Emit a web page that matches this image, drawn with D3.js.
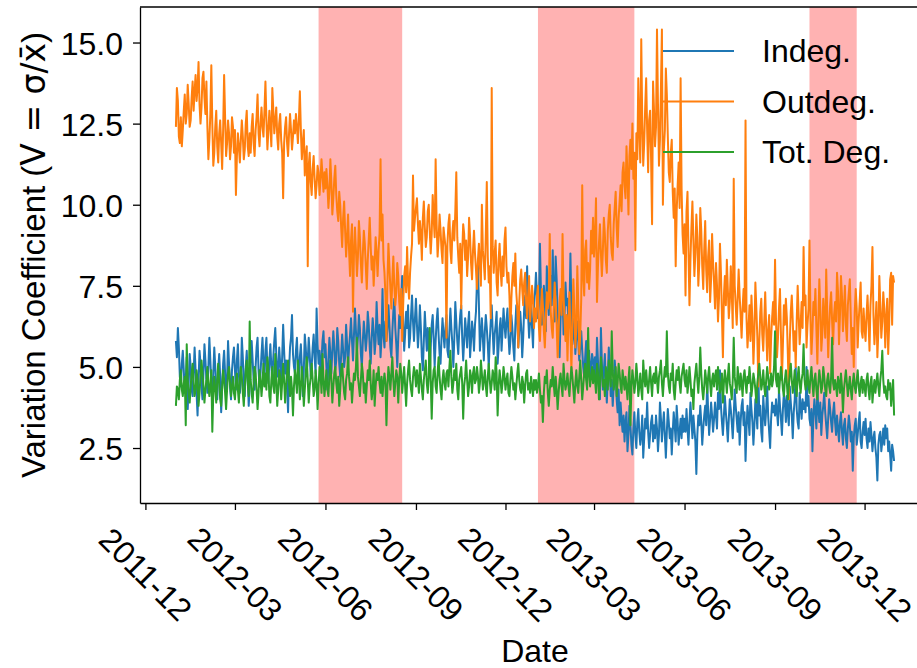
<!DOCTYPE html>
<html lang="en">
<head>
<meta charset="UTF-8">
<title>Variation Coefficient</title>
<script src="https://d3js.org/d3.v7.min.js"></script>
<style>
  body { margin: 0; background: #fff; }
  svg { display: block; font-family: "Liberation Sans", Arial, Helvetica, sans-serif; }
</style>
</head>
<body>
<div id="chart"></div>
<script>
// daily values from 2012-01-01 to 2013-12-31, one row per month
const startDate = "2012-01-01";

const indeg = [
  5.8,5.3,6.2,5.6,4.7,4.4,5.1,5.5,4.9,4.2,4.6,5.3,3.7,4.5,5.4,5.0,4.3,4.1,4.8,5.6,4.9,4.2,3.5,4.6,5.5,5.1,4.4,4.0,4.8,5.7,5.2,
  4.6,4.2,5.0,5.9,5.2,4.5,4.1,4.8,5.6,5.0,4.3,4.0,4.9,5.4,4.7,3.6,4.4,5.1,5.5,4.8,4.2,4.6,5.8,5.1,4.4,4.0,4.9,5.3,5.6,
  4.9,4.3,5.2,5.7,4.8,4.2,4.6,5.9,5.3,4.5,4.1,5.0,5.5,4.7,3.8,4.4,5.1,5.8,5.2,4.6,4.3,5.0,5.6,5.9,4.9,4.4,4.8,5.4,5.9,5.1,4.6,
  5.5,5.9,4.9,4.5,5.2,5.7,5.0,4.6,5.3,5.8,6.2,5.4,4.7,4.9,5.6,5.1,4.6,5.3,6.3,5.5,4.8,5.2,4.4,3.6,4.9,5.6,5.9,6.6,5.4,5.0,
  4.8,5.5,5.9,5.1,4.6,5.3,5.7,5.0,4.1,4.9,6.0,5.6,4.9,5.2,5.9,5.4,4.7,5.0,5.6,6.0,5.3,4.8,6.8,5.7,5.1,5.5,4.7,5.2,5.8,6.1,5.3,
  5.7,5.0,4.3,5.2,5.9,5.4,4.8,5.5,6.1,5.6,4.9,5.2,6.2,5.8,5.1,4.7,5.4,6.0,5.5,5.0,5.3,6.3,5.7,5.0,5.6,6.0,6.5,5.8,5.2,6.0,
  6.8,6.1,5.5,5.9,6.6,6.2,5.4,5.0,5.8,6.4,6.0,5.5,5.9,6.7,6.3,5.6,5.1,5.9,6.5,6.1,5.4,5.8,7.0,6.2,5.7,6.3,5.3,5.9,7.4,6.0,5.6,
  6.4,5.8,6.2,6.9,6.3,5.6,5.3,6.1,6.7,7.1,6.2,5.7,5.0,5.9,6.6,6.2,7.0,7.8,6.5,5.5,6.0,6.7,6.2,6.9,5.6,5.9,6.6,7.2,6.4,5.8,6.5,
  7.1,6.3,5.6,6.1,6.9,6.2,5.3,4.9,5.8,6.7,6.1,5.5,6.2,5.7,4.7,5.6,6.3,6.6,5.9,5.0,5.8,6.4,6.8,6.0,5.4,5.1,5.9,6.5,6.0,5.6,
  6.2,6.6,5.5,5.3,6.1,6.8,6.2,5.7,5.0,5.9,7.0,6.4,5.8,5.4,6.1,6.6,6.9,5.9,5.2,5.8,6.5,6.1,5.6,6.3,6.7,5.3,5.8,6.4,6.1,5.5,6.3,
  6.7,7.6,8.2,6.9,5.5,6.0,6.5,5.9,5.2,6.1,6.6,6.2,5.7,5.0,5.8,6.4,6.9,6.1,5.4,6.0,6.3,6.7,5.1,5.6,6.2,6.5,5.5,6.1,6.8,6.3,
  5.9,6.4,6.8,6.0,5.4,5.8,6.6,6.2,5.6,5.2,6.3,6.9,6.4,5.6,6.1,6.7,6.2,5.3,5.9,6.8,7.2,6.5,8.1,6.6,5.9,6.4,7.0,6.2,5.6,6.9,7.3,
  7.9,7.2,6.5,6.9,8.8,7.4,6.3,6.8,7.5,7.0,6.1,8.1,7.6,6.6,7.2,7.8,6.9,8.6,7.3,6.4,8.4,7.7,6.7,6.2,5.3,6.5,7.1,7.4,6.0,6.6,7.6,
  6.9,7.1,6.2,6.6,8.5,6.8,5.7,6.0,6.5,5.4,5.9,6.4,5.8,5.2,5.6,6.1,5.5,5.0,4.7,5.3,5.8,4.9,5.2,5.5,4.6,5.0,5.4,5.2,
  4.8,5.3,4.6,5.9,5.2,4.4,4.0,6.2,5.1,4.3,4.9,5.4,4.5,3.9,4.7,5.6,5.0,4.1,4.6,3.8,4.4,5.2,4.8,4.0,3.6,4.3,3.2,3.9,3.4,3.0,3.5,
  2.7,3.3,3.6,2.4,2.9,3.8,3.2,2.6,2.3,3.1,3.6,2.9,2.5,3.3,3.7,3.0,2.6,2.9,3.5,2.2,2.8,3.4,3.1,3.9,3.0,2.5,2.9,3.3,3.5,2.7,
  3.2,2.8,3.5,3.1,2.4,2.9,3.9,3.4,2.7,3.2,3.6,2.9,2.2,3.0,3.7,3.3,2.8,3.1,2.3,3.0,3.6,3.2,2.7,3.8,3.3,2.6,3.0,3.4,2.8,3.5,3.0,
  3.4,3.0,3.7,3.1,2.6,3.3,3.9,3.4,2.8,3.5,3.1,2.7,1.7,2.9,3.5,3.2,3.8,3.3,2.6,3.1,3.5,3.8,3.2,4.6,3.6,2.9,3.4,3.9,3.5,3.0,
  3.4,3.9,3.5,3.1,4.2,3.7,4.9,3.8,3.3,2.9,3.5,4.1,3.6,3.2,2.7,3.4,4.0,3.7,3.3,2.8,3.5,4.3,3.8,3.4,3.0,3.6,2.6,3.3,3.8,4.0,3.2,
  3.6,2.1,3.1,3.8,3.4,2.9,4.2,3.7,3.3,2.6,3.2,4.0,3.6,3.1,4.8,3.5,3.8,3.0,2.7,4.1,3.6,3.2,3.7,4.4,3.5,3.0,2.5,3.4,3.9,3.6,3.8,
  3.5,4.0,3.6,3.2,4.3,3.8,3.4,2.9,3.7,4.2,3.9,3.3,4.1,3.6,3.2,4.4,3.9,3.5,2.8,3.6,4.0,5.0,3.7,3.3,3.1,4.2,3.8,3.4,4.0,3.7,
  3.9,3.6,5.0,3.8,4.1,3.4,3.2,3.7,2.4,3.5,4.0,3.6,3.1,4.3,3.7,3.3,3.9,2.9,3.5,3.8,4.2,3.6,3.2,2.8,3.4,4.0,3.7,3.3,3.0,3.6,3.9,
  3.3,2.9,3.5,3.1,2.7,3.3,3.6,3.0,2.6,3.2,3.4,2.8,2.5,3.1,3.5,3.2,2.7,3.0,1.8,2.8,3.2,3.4,2.6,2.9,3.3,3.6,2.7,2.5,3.0,3.3,
  2.9,3.4,2.8,2.5,3.1,2.7,3.3,2.9,2.4,2.8,3.0,2.5,2.2,1.5,2.6,2.9,3.0,2.4,2.7,3.1,2.6,3.2,2.8,3.1,2.4,2.7,2.3,1.8,2.6,2.4,2.1
];

const outdeg = [
  12.4,13.6,13.2,12.1,11.9,12.7,11.8,12.3,12.9,13.4,12.5,12.8,13.7,13.1,12.4,12.6,13.3,13.8,12.9,13.5,14.0,13.2,13.6,14.4,13.1,12.5,13.0,13.9,14.1,13.3,12.8,
  13.8,12.4,11.4,12.0,12.8,14.3,12.5,11.2,11.6,12.4,12.9,11.8,11.3,12.2,12.6,11.9,11.1,12.3,14.0,12.7,11.5,11.9,12.6,12.2,11.4,11.8,12.7,12.4,11.6,
  12.3,10.3,11.5,12.2,11.8,11.3,12.0,12.6,12.1,11.4,11.7,12.5,12.9,11.8,11.5,12.2,11.6,12.4,12.8,11.9,11.5,12.3,12.7,13.4,12.2,11.8,12.5,13.0,12.4,12.1,12.9,
  13.8,12.6,11.7,12.3,12.9,12.4,11.8,13.6,12.9,12.2,12.6,13.0,12.1,11.7,12.5,12.8,12.0,11.6,10.2,11.9,12.4,12.7,11.9,11.5,12.2,12.8,12.3,11.7,12.1,12.6,
  12.2,12.8,12.4,11.9,12.6,13.5,12.3,11.4,11.9,12.3,10.9,11.5,11.8,8.1,11.2,11.6,10.7,10.3,11.1,11.5,10.8,10.2,10.6,11.2,11.0,10.3,10.8,11.4,10.9,10.4,11.0,
  10.5,11.1,10.6,9.9,10.4,11.4,10.7,9.7,10.2,10.8,11.2,10.3,9.8,9.5,10.4,10.0,9.3,8.7,9.6,10.1,9.2,8.4,9.0,9.7,8.6,7.8,8.9,9.4,6.7,8.5,
  9.3,8.6,7.8,8.4,9.5,9.0,8.2,7.6,8.5,9.2,8.8,8.1,7.4,8.3,8.9,9.6,8.7,8.0,8.4,7.5,8.2,9.0,8.5,7.8,8.6,9.1,11.4,8.9,9.7,8.3,7.9,
  7.2,5.8,7.6,8.8,8.1,7.4,6.8,7.7,8.4,7.5,6.9,7.3,8.2,7.8,7.0,6.6,7.4,5.8,6.9,7.8,8.1,7.3,8.7,7.6,7.1,7.9,8.4,8.8,10.9,9.2,9.6,
  9.9,10.2,9.4,8.8,9.5,9.1,8.3,9.6,10.1,9.3,8.7,9.0,9.8,10.0,9.2,8.5,9.1,10.3,9.6,9.0,11.4,9.4,8.4,8.9,9.7,9.2,8.6,8.2,9.3,9.0,
  8.7,5.9,8.8,9.4,9.7,8.6,8.2,9.1,9.5,8.9,9.8,11.0,9.0,8.4,7.9,8.8,6.8,8.5,9.4,9.1,8.3,8.9,7.8,8.4,9.6,9.0,8.2,7.7,8.6,9.2,8.5,
  8.0,7.4,8.3,8.8,8.1,7.5,10.0,8.6,8.2,7.7,9.1,10.7,8.4,7.6,8.1,6.5,13.6,8.7,7.9,8.5,8.9,7.6,7.2,8.3,8.8,8.0,7.5,8.4,7.8,8.9,
  9.3,8.1,7.6,7.9,7.2,6.1,7.1,7.8,8.2,7.5,8.5,7.3,6.8,5.6,7.0,7.7,8.0,7.4,6.9,7.6,7.9,7.0,6.5,7.2,7.8,6.4,6.9,7.5,7.1,6.2,6.8,
  6.4,7.2,7.5,6.2,5.8,6.6,7.4,6.9,6.1,5.6,6.5,7.3,6.8,7.1,9.1,6.7,6.2,5.9,6.8,7.6,7.0,6.3,5.3,6.1,7.0,7.4,6.6,9.1,7.2,6.5,5.8,
  6.6,5.2,6.4,7.3,6.1,4.9,6.3,7.7,6.8,5.6,6.2,8.1,6.9,5.4,6.0,7.1,10.6,7.8,7.2,8.6,8.9,7.6,8.2,7.4,8.0,9.2,8.5,9.6,
  8.4,9.0,10.2,7.0,8.1,8.8,9.4,8.5,7.8,8.6,9.6,9.1,8.3,7.9,9.2,9.7,10.0,9.0,8.5,8.3,9.4,9.9,10.4,9.3,8.7,9.6,10.1,10.6,9.8,11.0,11.3,
  10.6,10.2,11.8,10.9,9.7,11.5,12.0,11.1,12.5,10.8,11.6,8.6,12.2,11.4,13.9,12.4,11.3,15.1,12.6,11.2,11.9,13.0,13.9,12.3,11.0,12.6,12.9,11.4,9.4,13.8,
  12.9,11.8,12.4,15.4,13.1,11.2,12.0,13.6,15.4,10.0,11.7,12.3,14.2,13.4,12.1,11.0,10.7,11.6,12.0,10.4,9.6,10.5,8.1,9.8,10.6,11.3,9.9,13.9,10.5,9.1,8.5,
  9.4,7.2,9.8,10.4,8.6,6.9,8.3,9.3,10.1,8.9,7.8,8.5,9.7,9.0,7.5,8.2,9.9,9.2,8.1,7.4,8.6,9.5,8.0,7.3,8.4,8.9,7.0,7.7,9.1,8.2,
  7.6,6.8,8.2,7.5,6.4,7.1,8.8,7.9,6.6,5.3,7.2,7.8,6.9,8.3,7.4,6.5,7.0,8.1,7.3,6.2,10.8,7.5,6.9,6.3,7.1,8.0,7.2,6.6,5.9,6.8,7.4,
  6.7,12.6,6.5,5.6,6.2,6.9,5.8,7.2,6.4,5.1,6.0,7.6,6.8,5.9,4.4,5.8,6.7,7.1,6.0,5.5,6.4,7.3,6.2,5.2,6.1,6.6,4.8,5.9,6.5,7.0,6.3,
  8.3,6.4,5.3,5.9,6.8,7.4,6.0,4.6,5.7,6.9,6.3,7.1,6.5,5.4,4.0,5.8,6.7,7.2,6.4,5.5,6.1,5.0,6.4,7.5,6.6,5.7,6.3,7.0,6.2,8.7,
  6.9,7.2,5.6,6.3,6.8,8.9,6.5,5.4,6.1,7.0,6.6,7.4,6.2,5.1,6.4,7.7,6.8,5.5,6.0,7.1,6.5,5.9,8.0,6.7,5.3,6.2,6.9,7.3,6.4,5.7,6.6,
  7.0,6.4,7.9,7.3,5.7,6.6,7.8,7.2,6.1,6.8,7.5,6.3,5.8,6.9,7.3,7.7,6.5,5.4,6.2,5.0,6.7,7.4,6.8,5.6,6.4,7.0,7.6,6.1,5.9,6.8,
  6.2,5.8,6.6,7.2,6.4,5.5,6.9,7.5,8.7,6.6,5.7,6.3,7.0,5.3,6.1,7.8,6.9,5.9,6.4,7.3,6.8,5.6,6.5,7.1,5.4,6.3,7.7,7.9,6.3,7.8,7.6
];

const totdeg = [
  3.8,4.4,4.3,4.0,4.6,4.9,4.3,4.1,4.5,4.7,3.2,5.7,4.6,4.2,3.9,4.4,4.8,5.1,4.5,4.1,4.3,4.9,4.6,3.8,4.2,4.7,5.2,4.8,4.4,3.9,4.3,
  4.6,5.0,4.4,4.1,4.5,4.9,3.0,4.2,4.7,4.3,3.9,4.6,5.1,4.5,4.0,3.8,4.4,4.9,4.6,4.2,3.7,4.3,4.8,5.0,4.5,4.1,4.4,4.7,4.2,
  4.0,4.5,4.8,4.3,3.9,4.6,5.0,4.7,4.2,3.8,4.4,4.9,5.2,4.5,4.1,6.4,4.6,4.2,3.9,4.5,5.0,4.8,4.3,3.7,4.2,4.9,4.6,4.1,4.5,5.1,4.4,
  4.8,4.3,5.3,4.9,4.1,3.9,4.6,5.0,4.4,4.2,5.4,4.6,3.8,4.3,4.9,4.7,4.0,4.5,5.1,4.6,3.9,4.4,4.8,5.2,4.5,4.1,4.7,4.3,3.5,4.4,
  4.9,4.6,4.2,5.2,4.7,4.0,4.4,5.0,4.5,3.8,4.3,4.8,5.3,4.6,3.9,4.4,4.7,5.1,4.6,4.1,4.3,4.9,4.5,3.7,4.4,5.0,4.8,4.2,5.4,4.6,4.1,
  4.5,4.9,4.3,4.1,4.7,5.2,4.6,3.9,4.4,4.8,5.0,4.5,4.2,4.7,3.8,4.3,4.9,5.1,4.6,4.2,4.0,4.6,4.8,5.3,4.7,4.3,4.5,3.9,4.4,4.8,
  4.6,5.0,5.9,4.7,4.4,4.1,4.6,5.1,4.8,4.2,4.5,3.9,4.4,4.9,4.6,5.2,4.5,4.0,4.3,4.9,3.8,4.4,4.8,4.6,5.0,4.5,4.2,4.7,4.1,4.5,4.8,
  4.5,3.2,4.4,5.0,4.7,4.3,4.8,5.3,4.6,4.1,4.5,4.9,4.7,3.9,4.6,5.1,4.8,4.2,4.6,5.0,4.4,3.8,4.5,4.9,5.2,4.6,4.3,4.1,4.7,5.0,4.8,
  4.4,4.9,4.6,4.2,5.1,4.7,4.3,4.0,4.6,4.9,5.2,4.5,4.2,4.7,6.2,4.6,3.4,4.5,4.9,5.0,4.4,4.2,4.8,5.3,4.7,4.3,4.0,4.6,4.9,4.5,
  4.3,4.8,4.9,4.4,5.0,5.5,4.7,4.2,4.5,4.9,4.6,5.1,4.3,4.0,4.6,4.8,5.0,4.5,3.4,4.4,4.7,5.2,4.6,4.1,4.4,4.9,4.7,4.2,4.8,5.0,4.5,
  4.6,5.0,4.7,4.2,4.5,5.2,4.8,4.3,4.6,4.9,4.4,4.1,4.7,5.1,4.6,4.2,4.5,4.9,4.7,4.3,5.3,4.8,3.5,4.4,4.9,4.6,4.2,4.5,5.0,4.7,
  4.3,4.6,4.8,4.2,4.1,4.6,5.0,4.7,4.3,4.5,4.0,4.4,4.8,5.1,4.6,4.3,4.2,4.7,4.5,3.9,4.4,4.8,4.9,4.3,4.5,4.2,4.7,4.4,4.1,4.6,4.3,
  4.6,4.2,4.4,4.8,4.3,3.9,4.1,3.3,4.2,4.7,4.5,4.9,4.2,3.8,4.3,4.6,4.4,5.0,4.5,4.1,4.7,4.3,3.7,4.2,4.6,4.8,4.4,4.1,5.1,4.6,4.3,
  4.5,4.8,4.4,4.1,4.6,5.0,4.7,4.3,3.9,4.5,4.9,4.4,4.2,4.7,5.2,4.6,4.0,4.4,4.8,5.1,4.6,4.3,6.2,4.8,4.4,4.7,5.0,4.5,
  4.9,4.6,4.2,5.1,4.8,4.0,4.5,5.3,4.9,4.4,4.6,4.1,5.0,4.7,4.3,5.2,4.8,4.4,6.1,4.9,4.3,4.6,5.0,4.1,4.5,5.1,4.8,4.4,4.2,4.9,4.6,
  4.3,4.7,4.4,4.0,4.6,5.0,3.2,4.4,4.9,4.6,4.2,4.5,5.1,4.7,4.1,4.4,4.8,4.3,4.0,5.2,4.7,4.4,4.9,4.5,4.2,4.6,5.0,4.5,4.1,4.7,
  4.8,4.5,5.0,4.6,4.2,4.7,4.9,5.2,4.5,4.1,4.6,5.0,4.7,6.1,4.8,4.4,4.2,4.8,4.6,5.1,4.3,4.0,4.5,4.9,4.6,5.0,4.5,4.2,4.7,4.9,5.1,
  4.6,4.4,4.9,4.2,4.5,5.0,4.6,4.1,4.3,3.7,4.5,4.8,5.1,4.6,4.2,4.7,5.6,4.8,4.3,4.0,4.4,4.9,4.6,4.2,4.7,5.0,4.5,4.1,4.6,4.8,
  4.4,4.7,4.9,4.3,5.0,4.6,4.2,4.4,4.8,3.9,4.5,4.9,4.6,4.2,4.7,5.1,4.5,4.3,4.0,4.6,5.9,4.7,4.4,4.2,5.0,4.6,4.3,4.8,4.5,4.1,4.7,
  4.9,4.5,4.2,4.7,4.5,5.0,4.6,4.1,4.4,4.8,4.6,4.3,3.9,4.5,4.8,5.1,4.7,4.3,4.5,4.9,4.4,4.1,4.6,5.0,4.7,4.3,4.5,4.8,4.4,4.6,5.0,
  6.1,4.6,4.4,4.8,4.2,4.6,5.0,4.7,4.3,4.1,4.6,4.9,4.5,4.0,4.4,4.8,5.1,4.6,4.2,4.5,4.9,4.4,4.1,4.7,5.0,4.5,4.2,4.6,4.8,5.7,
  4.6,4.3,4.5,4.9,4.4,4.2,4.7,5.0,4.5,4.1,4.6,4.8,4.3,4.0,4.5,4.9,4.6,4.2,4.4,5.0,4.7,4.3,4.1,4.6,4.8,4.4,4.2,4.7,5.9,4.5,4.3,
  4.6,4.4,4.1,4.7,4.5,4.2,4.8,4.4,3.6,4.3,4.6,4.9,4.5,4.1,4.4,4.7,4.3,4.0,4.5,4.8,4.4,4.2,4.6,4.9,4.4,4.1,4.5,4.7,4.2,4.6,
  4.4,4.1,4.6,4.8,4.3,4.0,4.5,4.7,3.9,4.3,4.6,4.2,4.5,4.8,4.4,4.1,4.6,4.9,5.5,4.6,4.2,4.4,4.1,4.0,4.6,4.3,4.5,3.8,4.2,4.6,3.5
];

const seriesNames = ["Indeg.", "Outdeg.", "Tot. Deg."];
const seriesColors = ["#1f77b4", "#ff7f0e", "#2ca02c"];
const shadedPeriods = [
  ["2012-05-25", "2012-08-18"],
  ["2013-01-03", "2013-04-11"],
  ["2013-10-06", "2013-11-23"]
];
const xTickDates = ["2011-12-01", "2012-03-01", "2012-06-01", "2012-09-01", "2012-12-01",
                    "2013-03-01", "2013-06-01", "2013-09-01", "2013-12-01"];
const yTicks = [2.5, 5.0, 7.5, 10.0, 12.5, 15.0];

// figure layout
const W = 917, H = 668;
const margin = {top: 7, left: 140};
const width = 790, height = 496;
const fontSize = 32;

const parse = d3.timeParse("%Y-%m-%d");
const t0 = parse(startDate);
const dates = indeg.map((_, i) => d3.timeDay.offset(t0, i));
const series = [indeg, outdeg, totdeg];

// matplotlib-like 5% margins
const xExt = d3.extent(dates);
const xPad = (xExt[1] - xExt[0]) * 0.05;
const x = d3.scaleTime()
    .domain([new Date(+xExt[0] - xPad), new Date(+xExt[1] + xPad)])
    .range([0, width]);

const allVals = series.flat();
const yMin = d3.min(allVals), yMax = d3.max(allVals);
const yPad = (yMax - yMin) * 0.05;
const y = d3.scaleLinear()
    .domain([yMin - yPad, yMax + yPad])
    .range([height, 0]);

const svg = d3.select("#chart").append("svg")
    .attr("width", W)
    .attr("height", H)
    .style("background", "#fff");

const g = svg.append("g")
    .attr("transform", `translate(${margin.left},${margin.top})`);

// shaded periods
g.selectAll("rect.period")
    .data(shadedPeriods)
    .enter().append("rect")
    .attr("class", "period")
    .attr("x", d => x(parse(d[0])))
    .attr("width", d => x(parse(d[1])) - x(parse(d[0])))
    .attr("y", 0)
    .attr("height", height)
    .attr("fill", "#ff0000")
    .attr("fill-opacity", 0.3);

// lines
const line = d3.line()
    .x((d, i) => x(dates[i]))
    .y(d => y(d));

g.selectAll("path.series")
    .data(series)
    .enter().append("path")
    .attr("class", "series")
    .attr("d", d => line(d))
    .attr("fill", "none")
    .attr("stroke", (d, i) => seriesColors[i])
    .attr("stroke-width", 2)
    .attr("stroke-linejoin", "round");

// axes
const xAxis = g.append("g")
    .attr("transform", `translate(0,${height})`)
    .call(d3.axisBottom(x)
        .tickValues(xTickDates.map(parse))
        .tickFormat(d3.timeFormat("%Y-%m"))
        .tickSizeInner(7)
        .tickSizeOuter(0));

xAxis.selectAll("text")
    .attr("y", null)
    .attr("dy", "0.36em")
    .attr("text-anchor", "middle")
    .attr("transform", "translate(0,71) rotate(45)");

const yAxis = g.append("g")
    .call(d3.axisLeft(y)
        .tickValues(yTicks)
        .tickFormat(d3.format(".1f"))
        .tickSizeInner(7)
        .tickSizeOuter(0)
        .tickPadding(10));

yAxis.selectAll("text").attr("dy", "0.36em");

[xAxis, yAxis].forEach(a => {
    a.attr("font-family", null).attr("font-size", null);
    a.selectAll("text").style("font-size", fontSize + "px").attr("fill", "#000");
    a.selectAll("line").attr("stroke", "#000").attr("stroke-width", 1.3);
    a.select(".domain").attr("stroke", "#000").attr("stroke-width", 1.3);
});

// top and right spines
g.append("line")
    .attr("x1", 0).attr("x2", width)
    .attr("y1", 0).attr("y2", 0)
    .attr("stroke", "#000").attr("stroke-width", 1.3);
g.append("line")
    .attr("x1", width).attr("x2", width)
    .attr("y1", 0).attr("y2", height)
    .attr("stroke", "#000").attr("stroke-width", 1.3);

// axis labels
svg.append("text")
    .attr("x", margin.left + width / 2)
    .attr("y", 662)
    .attr("text-anchor", "middle")
    .style("font-size", fontSize + "px")
    .text("Date");

const yLabel = svg.append("text")
    .attr("transform", `translate(45,${margin.top + height / 2}) rotate(-90)`)
    .attr("text-anchor", "middle")
    .style("font-size", "33px");
yLabel.append("tspan").text("Variation Coefficient (");
yLabel.append("tspan").style("font-family", "'DejaVu Sans', sans-serif").text("V = \u03c3/x\u0304");
yLabel.append("tspan").text(")");

// legend
const legend = svg.append("g")
    .attr("transform", "translate(663,51)");

const items = legend.selectAll("g")
    .data(seriesNames)
    .enter().append("g")
    .attr("transform", (d, i) => `translate(0,${i * 50.5})`);

items.append("line")
    .attr("x1", 0).attr("x2", 71)
    .attr("stroke", (d, i) => seriesColors[i])
    .attr("stroke-width", 2);

items.append("text")
    .attr("x", 99)
    .attr("dy", "0.35em")
    .style("font-size", fontSize + "px")
    .text(d => d);
</script>
</body>
</html>
